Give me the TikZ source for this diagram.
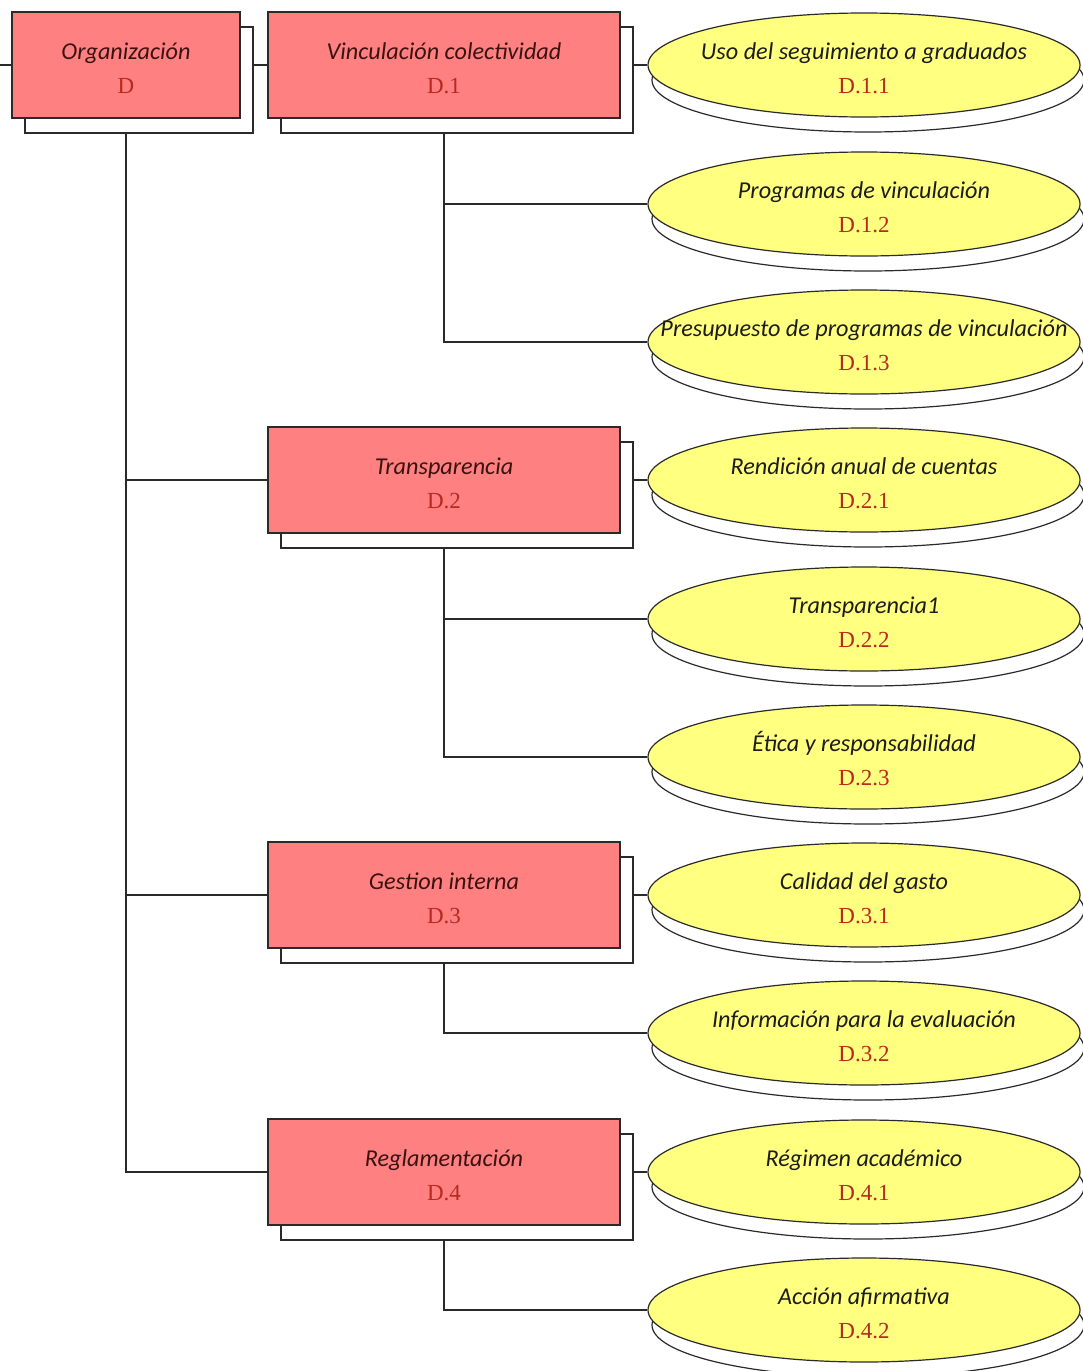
\documentclass[tikz,border=0pt]{standalone}
\usepackage{fontspec}
\setmainfont{Liberation Serif}
\newfontfamily\labfont{Carlito}
\usetikzlibrary{shapes.geometric,shadows}
\definecolor{boxfill}{HTML}{FF8080}
\definecolor{ellfill}{HTML}{FFFF80}
\definecolor{codered}{HTML}{B82A20}
\definecolor{boxtxt}{HTML}{3A1212}
\definecolor{elltxt}{HTML}{1C1C1C}
\definecolor{linecol}{HTML}{2A2A2A}
\tikzset{
  boxnode/.style={rectangle, draw=linecol, line width=1.2pt, fill=boxfill,
    minimum width=352pt, minimum height=106pt, inner sep=0pt,
    copy shadow={shadow xshift=13pt, shadow yshift=-15pt, fill=white, draw=linecol, line width=1.2pt}},
  ellnode/.style={ellipse, draw=linecol, line width=1.2pt, fill=ellfill,
    minimum width=432pt, minimum height=104pt, inner sep=0pt,
    copy shadow={shadow xshift=4pt, shadow yshift=-15pt, fill=white, draw=linecol, line width=1.2pt}},
  titletxt/.style={anchor=base, inner sep=0pt, font=\labfont\itshape\fontsize{24.2}{29}\selectfont},
  codetxt/.style={anchor=base, inner sep=0pt, text=codered, font=\fontsize{23}{27}\selectfont},
  conn/.style={draw=linecol, line width=1.2pt},
}
\newcommand\mkbox[6][352pt]{%
  \node[boxnode, minimum width=#1] (#2) at (#3,#4) {};
  \node[titletxt, text=boxtxt] (#2t) at ([yshift=6pt]#2.center) {#5};
  \node[codetxt] (#2c) at ([yshift=-28pt]#2.center) {#6};
}
\newcommand\mkell[5]{%
  \node[ellnode] (#1) at (#2,#3) {};
  \node[titletxt, text=elltxt] (#1t) at ([yshift=6pt]#1.center) {#4};
  \node[codetxt] (#1c) at ([yshift=-28pt]#1.center) {#5};
}
\begin{document}
\begin{tikzpicture}[x=1pt,y=-1pt]
\useasboundingbox (0,0) rectangle (1083,1371);
\fill[white] (0,0) rectangle (1083,1371);
\mkbox[228pt]{org}{126}{65}{Organización}{D}
\mkbox{d1}{444}{65}{Vinculación colectividad}{D.1}
\mkbox{d2}{444}{480}{Transparencia}{D.2}
\mkbox{d3}{444}{895}{Gestion interna}{D.3}
\mkbox{d4}{444}{1172}{Reglamentación}{D.4}
\mkell{e11}{864}{65}{Uso del seguimiento a graduados}{D.1.1}
\mkell{e12}{864}{204}{Programas de vinculación}{D.1.2}
\mkell{e13}{864}{342}{Presupuesto de programas de vinculación}{D.1.3}
\mkell{e21}{864}{480}{Rendición anual de cuentas}{D.2.1}
\mkell{e22}{864}{619}{Transparencia1}{D.2.2}
\mkell{e23}{864}{757}{Ética y responsabilidad}{D.2.3}
\mkell{e31}{864}{895}{Calidad del gasto}{D.3.1}
\mkell{e32}{864}{1033}{Información para la evaluación}{D.3.2}
\mkell{e41}{864}{1172}{Régimen académico}{D.4.1}
\mkell{e42}{864}{1310}{Acción afirmativa}{D.4.2}
\coordinate (stub) at (0,65);
\draw[conn] (stub) -- (org.west);
\draw[conn] ([xshift=13pt]org.east) -- (d1.west);
\foreach \d in {d2,d3,d4}{\draw[conn] ([yshift=-15pt]org.south) |- (\d.west);}
\draw[conn] ([xshift=13pt]d1.east) -- (e11.west);
\draw[conn] ([xshift=13pt]d2.east) -- (e21.west);
\draw[conn] ([xshift=13pt]d3.east) -- (e31.west);
\draw[conn] ([xshift=13pt]d4.east) -- (e41.west);
\foreach \e in {e12,e13}{\draw[conn] ([yshift=-15pt]d1.south) |- (\e.west);}
\foreach \e in {e22,e23}{\draw[conn] ([yshift=-15pt]d2.south) |- (\e.west);}
\draw[conn] ([yshift=-15pt]d3.south) |- (e32.west);
\draw[conn] ([yshift=-15pt]d4.south) |- (e42.west);
\end{tikzpicture}
\end{document}
